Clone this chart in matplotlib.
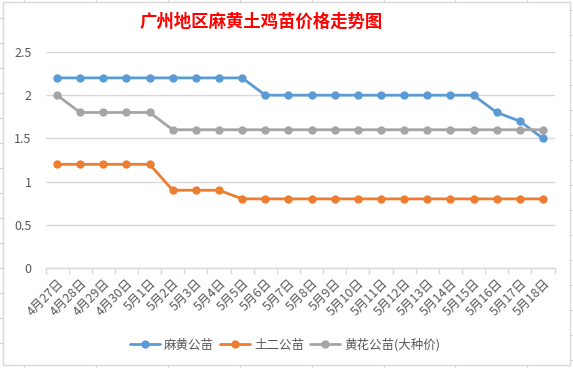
import matplotlib
matplotlib.use("Agg")
import matplotlib.pyplot as plt
from matplotlib.lines import Line2D
from matplotlib.patches import Rectangle

plt.rcParams['font.family'] = ['Noto Sans CJK SC', 'DejaVu Sans']

dates = ["4月27日", "4月28日", "4月29日", "4月30日", "5月1日", "5月2日", "5月3日",
         "5月4日", "5月5日", "5月6日", "5月7日", "5月8日", "5月9日", "5月10日",
         "5月11日", "5月12日", "5月13日", "5月14日", "5月15日", "5月16日",
         "5月17日", "5月18日"]
mahuang = [2.2, 2.2, 2.2, 2.2, 2.2, 2.2, 2.2, 2.2, 2.2, 2.0, 2.0, 2.0, 2.0, 2.0,
           2.0, 2.0, 2.0, 2.0, 2.0, 1.8, 1.7, 1.5]
tuer = [1.2, 1.2, 1.2, 1.2, 1.2, 0.9, 0.9, 0.9, 0.8, 0.8, 0.8, 0.8, 0.8, 0.8,
        0.8, 0.8, 0.8, 0.8, 0.8, 0.8, 0.8, 0.8]
huanghua = [2.0, 1.8, 1.8, 1.8, 1.8, 1.6, 1.6, 1.6, 1.6, 1.6, 1.6, 1.6, 1.6, 1.6,
            1.6, 1.6, 1.6, 1.6, 1.6, 1.6, 1.6, 1.6]
series_names = ["麻黄公苗", "土二公苗", "黄花公苗(大种价)"]
colors = ["#5B9BD5", "#ED7D31", "#A5A5A5"]
yticks = [0, 0.5, 1, 1.5, 2, 2.5]
ytick_labels = ["0", "0.5", "1", "1.5", "2", "2.5"]

W, H = 573, 368
fig = plt.figure(figsize=(W / 100, H / 100), dpi=100)

# spreadsheet background cell gridlines (outside chart box)
grid_c = "#D4D4D4"
for x in [24, 96, 168, 240, 312, 384, 455, 527]:
    fig.add_artist(Line2D([x / W, x / W], [1, 1 - 2 / H], color=grid_c, lw=0.8))
    fig.add_artist(Line2D([x / W, x / W], [0, 3 / H], color=grid_c, lw=0.8))
for y in range(18, 368, 25):
    fig.add_artist(Line2D([0, 3 / W], [1 - y / H, 1 - y / H], color=grid_c, lw=0.8))
for y in range(10, 368, 25):
    fig.add_artist(Line2D([570 / W, 1], [1 - y / H, 1 - y / H], color=grid_c, lw=0.8))

# chart border
fig.add_artist(Rectangle((3 / W, 1 - 365 / H), 567 / W, 363 / H, fill=False,
                         edgecolor="#D9D9D9", lw=1.0))

ax = fig.add_axes([45.5 / W, 1 - 268 / H, (554.5 - 45.5) / W, (268 - 52) / H])
x = list(range(len(dates)))
for vals, name, c in zip([mahuang, tuer, huanghua], series_names, colors):
    ax.plot(x, vals, color=c, lw=2.0, marker='o', markersize=5, label=name,
            solid_capstyle='round', zorder=3)

ax.set_xlim(-0.5, len(dates) - 0.5)
ax.set_ylim(0, 2.5)
ax.set_yticks(yticks)
ax.set_yticklabels(ytick_labels)
ax.yaxis.grid(True, color="#D9D9D9", lw=1.0)
ax.set_axisbelow(True)
for s in ["top", "right", "left"]:
    ax.spines[s].set_visible(False)
ax.spines["bottom"].set_color("#D9D9D9")
ax.spines["bottom"].set_linewidth(1.0)
ax.tick_params(axis='y', length=0, pad=10, labelsize=9, labelcolor="#595959")

ax.set_xticks(x)
ax.set_xticklabels(dates, rotation=45, ha='right', va='top', rotation_mode='anchor',
                   fontsize=9, color="#595959")
ax.tick_params(axis='x', which='major', length=0, pad=6)
ax.set_xticks([i - 0.5 for i in range(len(dates) + 1)], minor=True)
ax.tick_params(axis='x', which='minor', length=4, color="#D9D9D9", width=1.0)

fig.text(261 / W, 1 - 22 / H, "广州地区麻黄土鸡苗价格走势图", color="#FF0000",
         fontsize=12.5, fontweight='bold', ha='center', va='center')

leg = fig.legend(loc='center', bbox_to_anchor=(285 / W, 1 - 345 / H), ncol=3,
                 frameon=False, fontsize=9, handlelength=2.4, columnspacing=0.5,
                 handletextpad=0.3, labelcolor="#595959")

fig.savefig("out.png", dpi=100)
